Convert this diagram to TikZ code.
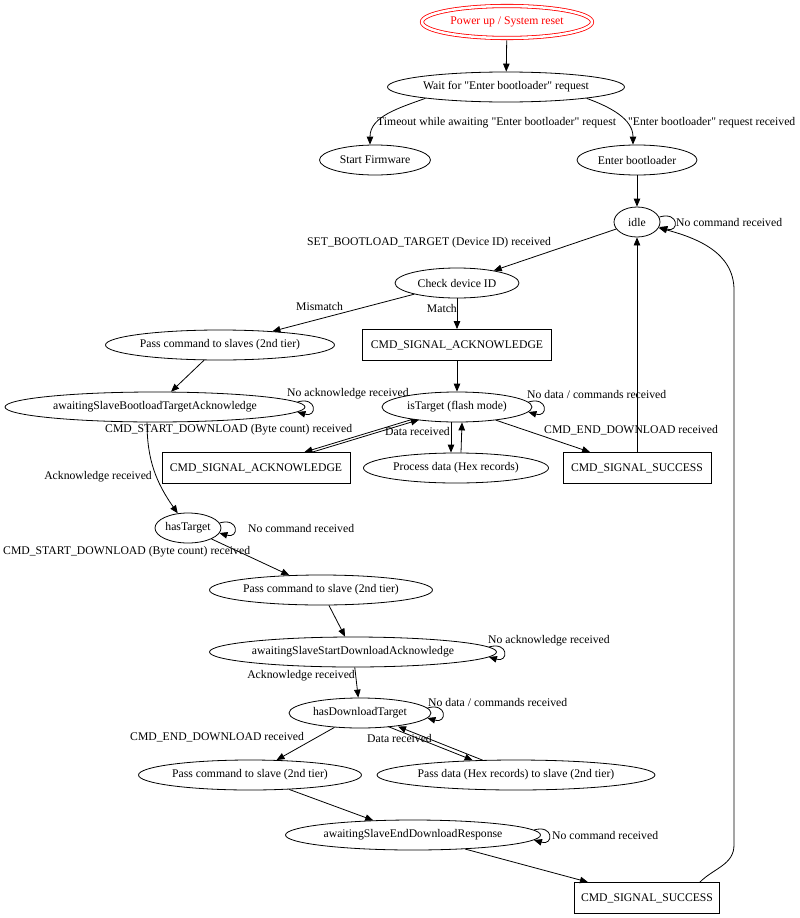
\documentclass[tikz,border=0pt]{standalone}
\usepackage{fontspec}
\setmainfont{Liberation Serif}
\usetikzlibrary{arrows.meta, shapes, positioning}
\tikzset{state/.style = {
	ellipse, draw,
	line width=0.8pt,
	minimum height=30pt, inner sep=0pt
	}}
\tikzset{box/.style = {
	rectangle, draw,
	line width=0.8pt,
	minimum height=31pt, inner sep=0pt
	}}
\tikzset{start/.style = {
	state, draw=red, text=red,
	double, double distance=2.5pt
	}}
\tikzset{trans/.style = {->, >={Triangle[length=8pt, width=6.5pt]}, line width=0.8pt}}
\tikzset{lbl/.style = {inner sep=0pt}}
\newcommand{\selfloop}[2]{%
	\draw[trans] ([shift={(-#2,5)}]#1.east) .. controls +(20,6) and +(20,-6) .. ([shift={(-#2,-5)}]#1.east);}

\begin{document}
\begin{tikzpicture}[x=1pt, y=1pt, font=\fontsize{11.7}{14}\selectfont]

\useasboundingbox (0,0) rectangle (800,-918);

	% States
	\node[start, minimum width=170pt, minimum height=32pt] (power) at (507,-22) {Power up / System reset};
	\node[state, minimum width=237pt] (wait) at (506,-87) {Wait for \textquotedbl Enter bootloader\textquotedbl{} request};
	\node[state, minimum width=111pt] (firmware) at (375,-160) {Start Firmware};
	\node[state, minimum width=120pt] (enter) at (637,-160) {Enter bootloader};
	\node[state, minimum width=46pt] (idle) at (637,-222) {idle};
	\node[state, minimum width=124pt] (check) at (457,-283) {Check device ID};
	\node[state, minimum width=229pt] (slaves) at (220,-345) {Pass command to slaves (2nd tier)};
	\node[box, minimum width=189pt] (ackA) at (457,-345) {CMD\_SIGNAL\_ACKNOWLEDGE};
	\node[state, minimum width=300pt] (awaitTarget) at (155,-407) {awaitingSlaveBootloadTargetAcknowledge};
	\node[state, minimum width=150pt] (isTarget) at (457,-407) {isTarget (flash mode)};
	\node[box, minimum width=188pt] (ackB) at (256,-468) {CMD\_SIGNAL\_ACKNOWLEDGE};
	\node[state, minimum width=185pt] (process) at (456,-468) {Process data (Hex records)};
	\node[box, minimum width=148pt] (successA) at (637,-468) {CMD\_SIGNAL\_SUCCESS};
	\node[state, minimum width=66pt] (hasTarget) at (188,-528) {hasTarget};
	\node[state, minimum width=223pt] (passStart) at (321,-590) {Pass command to slave (2nd tier)};
	\node[state, minimum width=287pt] (awaitStart) at (353,-652) {awaitingSlaveStartDownloadAcknowledge};
	\node[state, minimum width=142pt] (hasDownload) at (360,-713) {hasDownloadTarget};
	\node[state, minimum width=223pt] (passEnd) at (250,-775) {Pass command to slave (2nd tier)};
	\node[state, minimum width=277pt] (passData) at (516,-775) {Pass data (Hex records) to slave (2nd tier)};
	\node[state, minimum width=255pt] (awaitEnd) at (413,-835) {awaitingSlaveEndDownloadResponse};
	\node[box, minimum width=145pt] (successB) at (647,-898) {CMD\_SIGNAL\_SUCCESS};

	% Start up
	\draw[trans, shorten <=2pt] (power) -- (wait);
	\draw[trans] (wait.188) to[out=200, in=90] ([xshift=-5pt]firmware.north);
	\node[lbl, anchor=west] (timeout) at (377,-123) {Timeout while awaiting \textquotedbl Enter bootloader\textquotedbl{} request};
	\draw[trans] (wait.-8) to[out=-20, in=90] ([xshift=-4pt]enter.north);
	\node[lbl, anchor=west] (requested) at (628,-123) {\textquotedbl Enter bootloader\textquotedbl{} request received};
	\draw[trans] (enter) -- (idle);
	\selfloop{idle}{1}
	\node[lbl, anchor=west] (noCmdIdle) at (676,-222) {No command received};

	% Target selection
	\draw[trans] (idle) -- (check);
	\node[lbl, anchor=west] (setTarget) at (307,-243) {SET\_BOOTLOAD\_TARGET (Device ID) received};
	\draw[trans] (check) -- (slaves);
	\node[lbl, anchor=west] (mismatch) at (296,-306) {Mismatch};
	\draw[trans] (check) -- (ackA);
	\node[lbl, anchor=east] (match) at (457,-308) {Match};
	\draw[trans] (slaves) -- (awaitTarget);
	\draw[trans] (ackA) -- (isTarget);
	\selfloop{awaitTarget}{8}
	\node[lbl, anchor=west] (noAckA) at (287,-394) {No acknowledge received};

	% Flash mode
	\selfloop{isTarget}{4}
	\node[lbl, anchor=west] (noDataA) at (527,-394) {No data / commands received};
	\draw[trans, transform canvas={xshift=-4pt}] (isTarget) -- (ackB);
	\draw[trans, transform canvas={xshift=4pt}] (ackB) -- (isTarget);
	\node[lbl, anchor=west] (startDlA) at (105,-430) {CMD\_START\_DOWNLOAD (Byte count) received};
	\draw[trans] ([xshift=-6pt]isTarget.south) -- ([xshift=-5pt]process.north);
	\draw[trans] ([xshift=5pt]process.north) -- ([xshift=5pt]isTarget.south);
	\node[lbl, anchor=east] (dataA) at (450,-431) {Data received};
	\draw[trans] (isTarget) -- (successA);
	\node[lbl, anchor=west] (endDlA) at (544,-430) {CMD\_END\_DOWNLOAD received};
	\draw[trans] (successA) -- (idle);

	% Forwarding to the slaves
	\draw[trans] ([xshift=-8pt]awaitTarget.south) to[out=-90, in=125] (hasTarget);
	\node[lbl, anchor=east] (ackRecA) at (152,-477) {Acknowledge received};
	\selfloop{hasTarget}{2}
	\node[lbl, anchor=west] (noCmdTarget) at (248,-528) {No command received};
	\draw[trans] (hasTarget) -- (passStart);
	\node[lbl, anchor=west] (startDlB) at (3,-552) {CMD\_START\_DOWNLOAD (Byte count) received};
	\draw[trans] (passStart) -- (awaitStart);
	\selfloop{awaitStart}{8}
	\node[lbl, anchor=west] (noAckB) at (488,-641) {No acknowledge received};
	\draw[trans] (awaitStart) -- (hasDownload);
	\node[lbl, anchor=east] (ackRecB) at (355,-676) {Acknowledge received};
	\selfloop{hasDownload}{4}
	\node[lbl, anchor=west] (noDataB) at (428,-702) {No data / commands received};
	\draw[trans] (hasDownload) -- (passEnd);
	\node[lbl, anchor=west] (endDlB) at (130,-737) {CMD\_END\_DOWNLOAD received};
	\draw[trans, transform canvas={xshift=-6pt}] (hasDownload) -- (passData);
	\draw[trans, transform canvas={xshift=4pt}] (passData) -- (hasDownload);
	\node[lbl, anchor=west] (dataB) at (367,-738) {Data received};
	\draw[trans] (passEnd) -- (awaitEnd);
	\selfloop{awaitEnd}{7}
	\node[lbl, anchor=west] (noCmdEnd) at (552,-835) {No command received};
	\draw[trans] (awaitEnd) -- (successB);
	\draw[trans] ([xshift=-20pt]successB.north east) to[out=45, in=-90] (734,-845) -- (734,-290) to[out=90, in=-15] (idle);

\end{tikzpicture}
\end{document}
